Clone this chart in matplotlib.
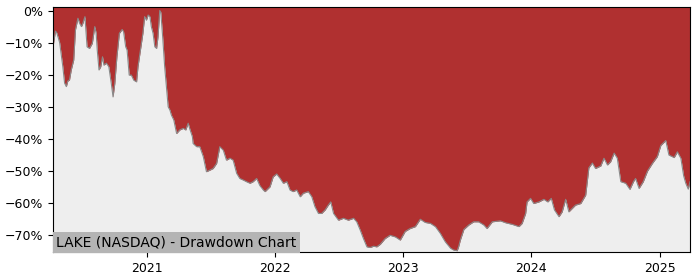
import numpy as np
import pandas as pd
import matplotlib
matplotlib.use("Agg")
import matplotlib.pyplot as plt
import matplotlib.dates as mdates
from matplotlib.ticker import FuncFormatter

ticker_label = "LAKE (NASDAQ) - Drawdown Chart"

dates = [
    "2020-04-09", "2020-04-16", "2020-04-20", "2020-04-28", "2020-05-07", "2020-05-12",
    "2020-05-17", "2020-05-21", "2020-05-26", "2020-05-31", "2020-06-07", "2020-06-12",
    "2020-06-19", "2020-06-24", "2020-06-29", "2020-07-03", "2020-07-09", "2020-07-15",
    "2020-07-22", "2020-07-30", "2020-08-06", "2020-08-10", "2020-08-13", "2020-08-18",
    "2020-08-23", "2020-08-28", "2020-09-01", "2020-09-08", "2020-09-15", "2020-09-22",
    "2020-09-27", "2020-10-02", "2020-10-08", "2020-10-15", "2020-10-23", "2020-10-27",
    "2020-11-02", "2020-11-06", "2020-11-12", "2020-11-18", "2020-11-25", "2020-12-03",
    "2020-12-07", "2020-12-14", "2020-12-21", "2020-12-26", "2020-12-31", "2021-01-05",
    "2021-01-10", "2021-01-14", "2021-01-19", "2021-01-24", "2021-01-29", "2021-02-02",
    "2021-02-07", "2021-02-10", "2021-02-16", "2021-02-21", "2021-02-26", "2021-03-03",
    "2021-03-08", "2021-03-12", "2021-03-17", "2021-03-19", "2021-03-27", "2021-04-05",
    "2021-04-15", "2021-04-22", "2021-04-29", "2021-05-04", "2021-05-11", "2021-05-13",
    "2021-05-23", "2021-06-01", "2021-06-11", "2021-06-20", "2021-06-30", "2021-07-09",
    "2021-07-19", "2021-07-28", "2021-08-07", "2021-08-16", "2021-08-26", "2021-09-04",
    "2021-09-14", "2021-09-23", "2021-10-03", "2021-10-12", "2021-10-22", "2021-10-31",
    "2021-11-10", "2021-11-19", "2021-11-29", "2021-12-04", "2021-12-18", "2021-12-27",
    "2022-01-06", "2022-01-16", "2022-01-25", "2022-02-04", "2022-02-13", "2022-02-22",
    "2022-03-04", "2022-03-14", "2022-03-23", "2022-04-06", "2022-04-16", "2022-04-25",
    "2022-05-05", "2022-05-14", "2022-05-24", "2022-06-02", "2022-06-09", "2022-06-17",
    "2022-07-01", "2022-07-15", "2022-07-29", "2022-08-13", "2022-08-22", "2022-09-01",
    "2022-09-10", "2022-09-20", "2022-09-29", "2022-10-09", "2022-10-18", "2022-10-28",
    "2022-11-11", "2022-11-25", "2022-12-10", "2022-12-24", "2023-01-07", "2023-01-21",
    "2023-02-05", "2023-02-19", "2023-03-05", "2023-03-20", "2023-04-03", "2023-04-17",
    "2023-05-01", "2023-05-16", "2023-05-25", "2023-06-04", "2023-06-08", "2023-06-13",
    "2023-06-23", "2023-07-07", "2023-07-21", "2023-08-04", "2023-08-19", "2023-08-28",
    "2023-09-12", "2023-10-05", "2023-10-20", "2023-11-08", "2023-11-27", "2023-12-06",
    "2023-12-16", "2023-12-20", "2023-12-30", "2024-01-08", "2024-01-23", "2024-02-06",
    "2024-02-17", "2024-02-27", "2024-03-07", "2024-03-20", "2024-03-29", "2024-04-08",
    "2024-04-17", "2024-04-27", "2024-05-06", "2024-05-21", "2024-06-04", "2024-06-13",
    "2024-06-23", "2024-07-02", "2024-07-17", "2024-07-26", "2024-08-05", "2024-08-14",
    "2024-08-24", "2024-09-02", "2024-09-12", "2024-09-26", "2024-10-08", "2024-10-18",
    "2024-10-24", "2024-11-03", "2024-11-15", "2024-11-27", "2024-12-11", "2024-12-25",
    "2025-01-04", "2025-01-18", "2025-01-27", "2025-02-11", "2025-02-20", "2025-03-02",
    "2025-03-10", "2025-03-16", "2025-03-23", "2025-03-28",
]

drawdown = [
    -11.3, -6.4, -7.0, -10.0, -17.5, -22.6,
    -23.7, -22.0, -21.6, -18.5, -15.4, -6.0,
    -2.4, -4.0, -5.0, -4.0, -1.9, -11.3,
    -11.8, -10.2, -5.0, -7.1, -12.3, -18.5,
    -17.5, -14.4, -17.0, -16.4, -17.5, -22.7,
    -26.9, -22.7, -14.4, -7.1, -5.9, -6.6,
    -11.3, -12.3, -20.1, -20.1, -21.7, -22.2,
    -17.5, -12.3, -7.1, -1.9, -3.0, -1.4,
    -1.9, -5.0, -7.1, -11.3, -11.8, -8.2,
    0.0, -0.5, -9.2, -17.5, -23.7, -30.0,
    -31.0, -32.5, -33.6, -34.1, -38.3, -37.2,
    -36.7, -37.2, -35.1, -37.0, -39.3, -41.4,
    -42.4, -42.4, -45.5, -50.2, -49.7, -49.2,
    -47.6, -42.4, -43.5, -46.6, -46.0, -46.6,
    -50.7, -52.3, -52.8, -53.3, -53.8, -53.3,
    -52.3, -54.5, -55.9, -56.4, -54.9, -51.8,
    -50.9, -52.3, -53.8, -53.3, -55.9, -56.4,
    -55.9, -58.0, -56.9, -56.4, -58.0, -61.1,
    -63.2, -63.2, -62.1, -60.6, -59.6, -63.2,
    -65.3, -64.7, -65.3, -64.7, -65.8, -68.4,
    -71.0, -73.6, -73.8, -73.4, -73.6, -72.8,
    -71.0, -70.0, -70.5, -71.5, -68.8, -67.9,
    -67.3, -65.0, -66.0, -66.3, -67.3, -69.4,
    -72.0, -74.0, -74.6, -74.8, -73.6, -71.5,
    -68.2, -66.8, -65.8, -65.8, -66.8, -67.9,
    -65.8, -65.5, -66.1, -66.6, -67.3, -66.3,
    -63.2, -59.6, -58.5, -60.1, -59.6, -58.8,
    -59.6, -58.5, -62.1, -64.2, -62.7, -58.8,
    -62.7, -61.6, -60.6, -60.1, -57.5, -49.0,
    -47.5, -49.2, -48.4, -46.0, -48.1, -47.1,
    -44.4, -46.0, -53.3, -53.8, -55.7, -53.3,
    -52.3, -55.4, -53.3, -50.0, -47.6, -45.5,
    -42.0, -40.5, -45.0, -45.8, -44.0, -46.0,
    -51.5, -53.8, -55.6, -53.3,
]

x = pd.to_datetime(dates)
dd = np.array(drawdown)

fig = plt.figure(figsize=(7, 2.8), dpi=100)
ax = fig.add_axes([0.0757, 0.1, 0.91, 0.875])
ax.set_facecolor("#b03030")

ymin = -75.2
ax.fill_between(x, dd, ymin - 5, color="#eeeeee", linewidth=0)
ax.plot(x, dd, color="#8a8a8a", linewidth=0.8)

ax.set_xlim(x[0], x[-1])
ax.set_ylim(ymin, 1.1)
ax.set_yticks(np.arange(0, -71, -10))
ax.yaxis.set_major_formatter(FuncFormatter(lambda v, p: f"{v:.0f}%".replace("-", "\u2212")))
ax.xaxis.set_major_locator(mdates.YearLocator())
ax.xaxis.set_major_formatter(mdates.DateFormatter("%Y"))
ax.tick_params(labelsize=9)

ax.text(0.005, 0.012, ticker_label, transform=ax.transAxes, fontsize=10,
        ha="left", va="bottom",
        bbox=dict(facecolor="#b4b4b4", edgecolor="none", pad=2.5))

fig.savefig("out.png", dpi=100)
